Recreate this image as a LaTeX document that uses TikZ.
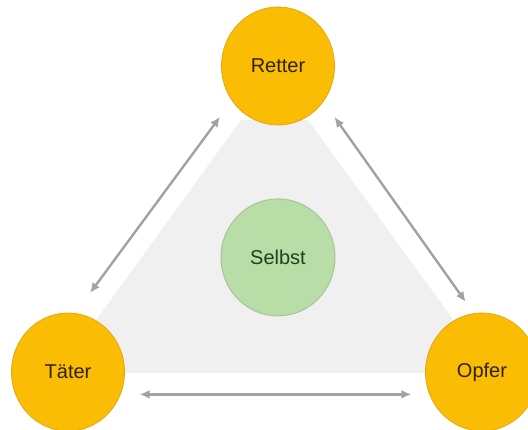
\documentclass[tikz,border=0pt]{standalone}
\usepackage{fontspec}
\setmainfont{Liberation Sans}
\usetikzlibrary{shapes.geometric, arrows.meta}
\usetikzlibrary{positioning}
\definecolor{roleyellow}{HTML}{FBBC04}
\definecolor{roleborder}{HTML}{E3A70C}
\definecolor{roletext}{HTML}{2E2304}
\definecolor{selfgreen}{HTML}{B8DDA6}
\definecolor{selfborder}{HTML}{A9C49C}
\definecolor{selftext}{HTML}{243F1B}
\definecolor{areagray}{HTML}{F0F0F1}
\definecolor{arrowgray}{HTML}{A2A2A4}
\tikzstyle{role} = [ellipse, minimum width=113pt, minimum height=118pt, inner sep=0pt, text centered, draw=roleborder, line width=0.8pt, fill=roleyellow, text=roletext, font=\fontsize{20}{24}\selectfont]
\tikzstyle{inner_self} = [ellipse, minimum width=114pt, minimum height=117pt, inner sep=0pt, text centered, draw=selfborder, line width=1pt, fill=selfgreen, text=selftext, font=\fontsize{20}{24}\selectfont]
\tikzstyle{drama_area} = [fill=areagray]
\tikzstyle{arrow} = [line width=2.4pt,{Latex[length=10pt,width=9pt]}-{Latex[length=10pt,width=9pt]},draw=arrowgray]

\begin{document}
\begin{tikzpicture}[x=1pt, y=-1pt]
		\clip (0,0) rectangle (528,430);
		% grey triangle behind the roles
		\fill[drama_area] (241,120) -- (308,120) -- (492,373) -- (58,373) -- cycle;

		\node (retter) [role] at (278,66) {Retter};
		\node (taeter) [role] at (68,372) {Täter};
		\node (opfer) [role] at (482,372) {Opfer};
		\node (selbst) [inner_self, below=73pt of retter] {Selbst};

		\draw[arrow, shorten <=25pt, shorten >=20pt] (taeter.83) -- (retter.217);
		\draw[arrow, shorten <=19pt, shorten >=14pt] (retter.-38) -- (opfer.98);
		\draw[arrow, shorten <=19pt, shorten >=18pt] (taeter.-23) -- (opfer.-157);
	\end{tikzpicture}
\end{document}
